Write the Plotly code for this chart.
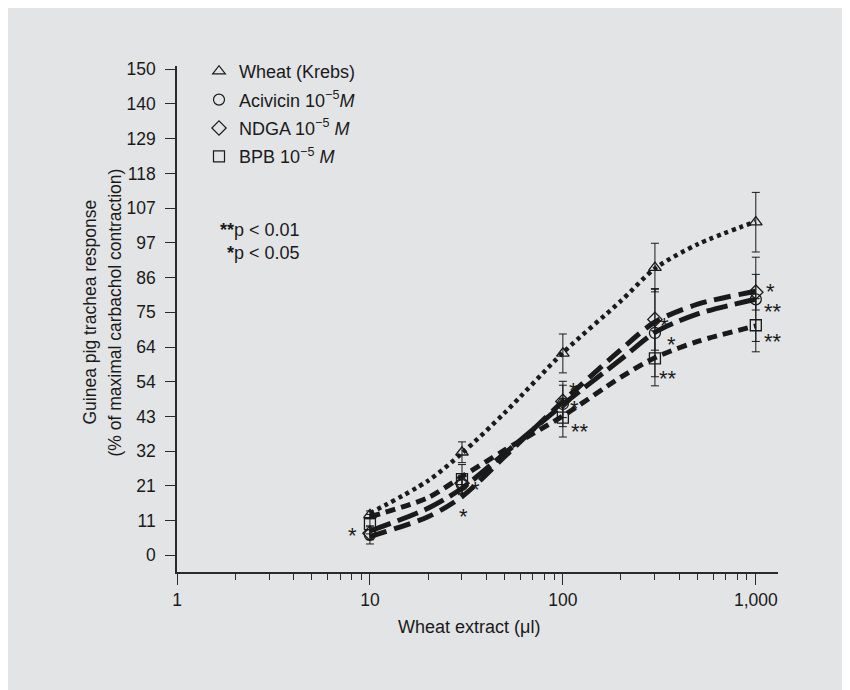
import plotly.graph_objects as go
import math

# ---------------- data ----------------
doses = [10, 30, 100, 300, 1000]

wheat = [12.5, 31.8, 62.3, 88.8, 102.8]
wheat_err = [1.2, 3.2, 6.0, 7.5, 9.2]

acivicin = [6.3, 21.7, 46.7, 68.6, 79.0]
acivicin_err = [2.8, 3.0, 7.0, 13.5, 13.0]

ndga = [6.8, 22.2, 47.5, 72.8, 81.2]
ndga_err = [2.0, 3.0, 5.0, 9.5, 5.5]

bpb = [9.6, 23.5, 42.5, 60.8, 71.0]
bpb_err = [3.0, 4.5, 6.0, 8.5, 8.2]

# fitted curves
fit_x = [10, 20, 30, 50, 100, 200, 300, 500, 1000]
wheat_fit = [13.0, 23.0, 31.5, 44.0, 62.5, 78.5, 88.5, 96.0, 103.0]
acivicin_fit = [7.5, 14.5, 20.7, 31.5, 46.5, 60.5, 68.8, 74.5, 79.0]
ndga_fit = [5.8, 11.9, 18.1, 30.5, 47.5, 63.5, 72.0, 77.5, 81.5]
bpb_fit = [11.9, 17.8, 24.3, 32.5, 43.0, 55.0, 61.0, 66.0, 70.8]

series_names = ["Wheat (Krebs)",
                "Acivicin 10<sup>\u22125</sup><i>M</i>",
                "NDGA 10<sup>\u22125</sup> <i>M</i>",
                "BPB 10<sup>\u22125</sup> <i>M</i>"]

y_tick_vals = [k * 150 / 14 for k in range(15)]
y_tick_text = ["0", "11", "21", "32", "43", "54", "64", "75", "86", "97",
               "107", "118", "129", "140", "150"]
x_tick_vals = [1, 10, 100, 1000]
x_tick_text = ["1", "10", "100", "1,000"]
x_minor_vals = [m * d for d in (1, 10, 100) for m in range(2, 10)]

star_x = [8.1, 35.4, 30.4, 114, 115.5, 122, 337, 366, 351, 1191, 1230, 1230]
star_y = [7.6, 21.9, 13.5, 52.3, 46.9, 39.9, 72.6, 66.7, 56.0, 83.1, 76.9, 67.5]
star_text = ["*", "*", "*", "*", "*", "**", "*", "*", "**", "*", "**", "**"]

# ---------------- styles ----------------
INK = "#1a1a1a"
AX = "#2a2a2a"
BG = "#e3e4e6"
FONT = "Liberation Sans, Arial, Helvetica, sans-serif"

L, R, T, B = 169, 80, 58, 126
W, H = 850, 690
PW, PH = W - L - R, H - T - B


def px_x(fx):  # figure px -> paper x
    return (fx - L) / PW


def px_y(fy):  # figure px -> paper y
    return 1 - (fy - T) / PH


line_styles = [
    dict(width=4.5, dash="4px,4px"),
    dict(width=5, dash="22px,7px"),
    dict(width=5, dash="17px,8px"),
    dict(width=5, dash="10px,6px"),
]
symbols = ["triangle-up-open", "circle-open", "diamond-open", "square-open"]

fig = go.Figure()

all_y = [wheat, acivicin, ndga, bpb]
all_err = [wheat_err, acivicin_err, ndga_err, bpb_err]
all_fit = [wheat_fit, acivicin_fit, ndga_fit, bpb_fit]

for i, ys in enumerate(all_fit):
    fig.add_trace(go.Scatter(
        x=fit_x, y=ys, mode="lines",
        line=dict(color=INK, shape="spline", smoothing=0.8, **line_styles[i]),
        showlegend=False, hoverinfo="skip"))

for i, ys in enumerate(all_y):
    fig.add_trace(go.Scatter(
        x=doses, y=ys, mode="markers",
        marker=dict(symbol=symbols[i], size=11, color=INK,
                    line=dict(width=1.3, color=INK)),
        error_y=dict(type="data", array=all_err[i], color=INK,
                     thickness=1, width=4),
        showlegend=False))

for i in range(4):
    fig.add_trace(go.Scatter(
        x=[None], y=[None], mode="markers", name=series_names[i],
        legendgroup=f"g{i}",
        marker=dict(symbol=symbols[i], size=11, color=INK,
                    line=dict(width=1.2, color=INK))))

annotations = []
for sx, sy, st in zip(star_x, star_y, star_text):
    annotations.append(dict(
        x=math.log10(sx), y=sy, xref="x", yref="y", text=st,
        showarrow=False, font=dict(size=22, color=INK, family=FONT),
        xanchor="center", yanchor="middle", yshift=-5))

annotations += [
    dict(xref="paper", yref="paper", x=px_x(294), y=px_y(233),
         text="<b>**</b>p < 0.01<br><b>*</b>p < 0.05", showarrow=False,
         xanchor="right", yanchor="middle", align="right",
         font=dict(size=18, color=INK, family=FONT)),
    dict(xref="paper", yref="paper", x=px_x(81), y=px_y(304.5),
         text="Guinea pig trachea response", textangle=-90, showarrow=False,
         xanchor="center", yanchor="middle",
         font=dict(size=17.5, color=INK, family=FONT)),
    dict(xref="paper", yref="paper", x=px_x(106), y=px_y(304.5),
         text="(% of maximal carbachol contraction)", textangle=-90,
         xanchor="center", yanchor="middle",
         showarrow=False, font=dict(size=17.5, color=INK, family=FONT)),
    dict(xref="paper", yref="paper", x=px_x(461), y=px_y(619),
         text="Wheat extract (\u03bcl)", showarrow=False,
         xanchor="center", yanchor="middle",
         font=dict(size=18, color=INK, family=FONT)),
]

fig.update_layout(
    width=W, height=H,
    margin=dict(l=L, r=R, t=T, b=B),
    paper_bgcolor=BG, plot_bgcolor=BG,
    font=dict(family=FONT, size=18, color=INK),
    showlegend=True,
    legend=dict(x=px_x(191), y=px_y(45), xanchor="left", yanchor="top",
                bgcolor="rgba(0,0,0,0)", tracegroupgap=2,
                font=dict(size=18, color=INK, family=FONT)),
    annotations=annotations,
)

fig.update_xaxes(
    type="log", range=[0, 3.115],
    showgrid=False, zeroline=False,
    showline=True, linecolor=AX, linewidth=1.5,
    ticks="outside", ticklen=11, tickwidth=1.2, tickcolor=AX,
    tickvals=x_tick_vals, ticktext=x_tick_text, ticklabelstandoff=0,
    tickfont=dict(size=17.5, color=INK, family=FONT),
    minor=dict(tickvals=x_minor_vals, ticks="outside", ticklen=6,
               tickwidth=1.2, tickcolor=AX, showgrid=False),
)
fig.update_yaxes(
    range=[-5.15, 151],
    showgrid=False, zeroline=False,
    showline=True, linecolor=AX, linewidth=1.5,
    ticks="outside", ticklen=10, tickwidth=1.2, tickcolor=AX,
    tickvals=y_tick_vals, ticktext=y_tick_text, ticklabelstandoff=6,
    tickfont=dict(size=17.5, color=INK, family=FONT),
)

fig.write_html("out.html")
